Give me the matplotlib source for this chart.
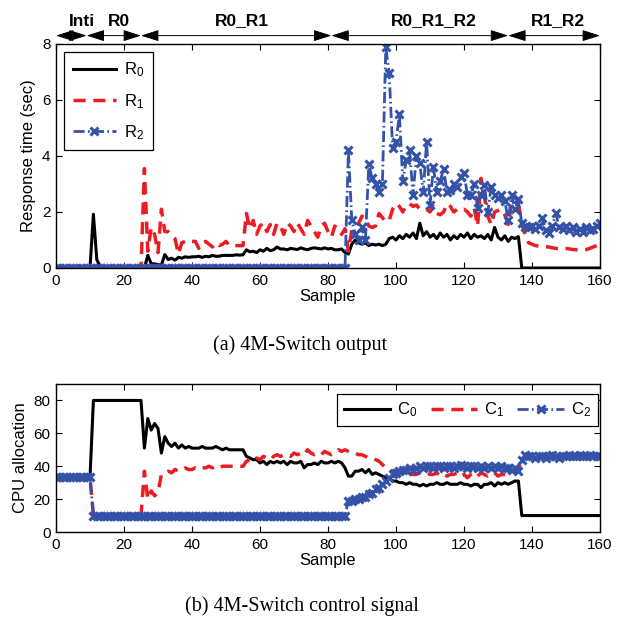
import matplotlib
matplotlib.use("Agg")
import matplotlib.pyplot as plt
import numpy as np

plt.rcParams['font.family'] = ['Liberation Sans', 'DejaVu Sans']
plt.rcParams['mathtext.fontset'] = 'custom'
plt.rcParams['mathtext.rm'] = 'Liberation Sans'

# ---------------- data ----------------
samples = list(range(0, 161))

R0 = [0, 0, 0, 0, 0, 0, 0, 0, 0, 0,
      0, 1.92, 0.3, 0.05, 0, 0, 0, 0, 0, 0,
      0, 0, 0, 0, 0, 0, 0, 0.45, 0.15, 0.15,
      0.12, 0.1, 0.48, 0.3, 0.35, 0.28, 0.38, 0.35, 0.4, 0.38,
      0.4, 0.4, 0.42, 0.38, 0.42, 0.4, 0.45, 0.42, 0.42, 0.45,
      0.45, 0.45, 0.45, 0.47, 0.46, 0.47, 0.65, 0.58, 0.6, 0.55,
      0.65, 0.6, 0.7, 0.62, 0.65, 0.75, 0.68, 0.68, 0.65, 0.7,
      0.68, 0.66, 0.72, 0.68, 0.65, 0.7, 0.72, 0.7, 0.68, 0.72,
      0.68, 0.7, 0.65, 0.65, 0.68, 0.55, 0.5, 0.85, 1.0, 0.9,
      0.85, 0.9, 0.8, 0.85, 0.82, 0.85, 0.8, 0.85, 1.05, 1.1,
      1.0, 1.15, 1.05, 1.2, 1.1, 1.25, 1.05, 1.6, 1.15, 1.3,
      1.1, 1.2, 1.05, 1.25, 1.1, 1.2, 1.0, 1.15, 1.05, 1.2,
      1.1, 1.25, 1.05, 1.2, 1.1, 1.15, 1.05, 1.2, 1.0, 1.45,
      1.1, 1.0, 1.15, 0.95, 1.1, 1.05, 1.12, 0, 0, 0,
      0, 0, 0, 0, 0, 0, 0, 0, 0, 0,
      0, 0, 0, 0, 0, 0, 0, 0, 0, 0,
      0]

R1 = [0, 0, 0, 0, 0, 0, 0, 0, 0, 0,
      0, 0, 0, 0, 0, 0, 0, 0, 0, 0,
      0, 0, 0, 0, 0, 0, 3.55, 0.6, 1.45, 1.2,
      0.55, 2.1, 1.3, 1.3, 1.15, 1.05, 0.5, 0.9, 0.95, 0.9,
      0.95, 0.95, 0.7, 0.9, 0.95, 0.85, 0.75, 0.9, 0.8, 0.85,
      0.95, 0.8, 0.8, 0.8, 0.8, 0.8, 1.95, 1.4, 1.7, 1.2,
      1.5, 1.6, 1.3, 1.55, 1.2, 1.6, 1.5, 1.2, 1.6, 1.5,
      1.3, 1.6, 1.4, 1.2, 1.7, 1.5, 1.3, 1.1, 1.5, 1.6,
      1.3, 1.1, 1.5, 1.4, 1.2, 1.4, 0.6, 1.35, 1.4, 1.6,
      1.85, 1.8, 1.5, 1.45, 1.5, 1.95, 1.8, 1.65, 1.7, 2.1,
      2.3, 2.2, 2.0, 2.25, 2.3, 2.2, 2.25, 2.1, 2.05, 2.1,
      2.0, 2.2, 1.95, 1.9, 2.0, 2.3, 2.2, 2.0, 2.1, 2.05,
      2.1, 2.0, 1.85, 2.15, 1.5, 3.2, 2.55, 1.85, 1.55, 2.0,
      2.05, 2.1, 1.9, 1.55, 2.3, 2.25, 2.3, 1.55, 1.2, 0.9,
      0.85, 0.8, 0.78, 0.76, 0.76, 0.75, 0.72, 0.7, 0.7, 0.7,
      0.7, 0.68, 0.66, 0.65, 0.64, 0.65, 0.66, 0.7, 0.75, 0.8,
      0.85]

R2 = [0, 0, 0, 0, 0, 0, 0, 0, 0, 0,
      0, 0, 0, 0, 0, 0, 0, 0, 0, 0,
      0, 0, 0, 0, 0, 0, 0, 0, 0, 0,
      0, 0, 0, 0, 0, 0, 0, 0, 0, 0,
      0, 0, 0, 0, 0, 0, 0, 0, 0, 0,
      0, 0, 0, 0, 0, 0, 0, 0, 0, 0,
      0, 0, 0, 0, 0, 0, 0, 0, 0, 0,
      0, 0, 0, 0, 0, 0, 0, 0, 0, 0,
      0, 0, 0, 0, 0, 0, 4.2, 1.7, 1.2, 1.0,
      1.45, 1.0, 3.7, 3.2, 3.0, 2.7, 3.0, 7.9, 6.95, 4.3,
      4.5, 5.5, 3.1, 3.85, 4.2, 2.6, 4.0, 3.75, 2.7, 4.5,
      2.25, 3.6, 2.7, 3.1, 3.55, 2.7, 2.8, 3.0, 2.9, 3.25,
      3.4, 2.6, 2.6, 3.0, 2.15, 2.6, 2.95, 2.0, 2.9, 2.6,
      2.5, 2.6, 2.4, 1.7, 2.6, 2.1, 2.45, 1.6, 1.45, 1.45,
      1.5, 1.4, 1.5, 1.8, 1.35, 1.25, 1.5, 1.95, 1.45, 1.4,
      1.5, 1.35, 1.45, 1.3, 1.4, 1.3, 1.45, 1.35, 1.4, 1.5,
      1.6]

C0 = [33.3, 33.3, 33.3, 33.3, 33.3, 33.3, 33.3, 33.3, 33.3, 33.3,
      33.3, 80, 80, 80, 80, 80, 80, 80, 80, 80,
      80, 80, 80, 80, 80, 80, 51, 69, 62, 66,
      63, 48, 58, 54, 52, 54, 51, 53, 51, 52,
      51, 51, 51, 52, 51, 51, 51, 52, 51, 50,
      51, 50, 50, 50, 50, 50, 46, 45, 44, 44,
      42, 43, 41, 43, 42, 43, 42, 43, 41, 43,
      42, 42, 43, 39, 41, 41, 42, 41, 43, 42,
      42, 43, 42, 43, 42, 39, 34, 34, 37, 37,
      38, 36, 38, 35, 36, 35, 34, 33, 33, 31,
      31, 30, 30, 29, 30, 29, 29, 28, 29, 28,
      29, 29, 30, 29, 29, 30, 29, 29, 29, 30,
      29, 29, 28, 29, 29, 27, 29, 29, 30, 28,
      30, 29, 30, 29, 30, 31, 31, 10, 10, 10,
      10, 10, 10, 10, 10, 10, 10, 10, 10, 10,
      10, 10, 10, 10, 10, 10, 10, 10, 10, 10,
      10]

C1 = [33.3, 33.3, 33.3, 33.3, 33.3, 33.3, 33.3, 33.3, 33.3, 33.3,
      33.3, 10, 10, 10, 10, 10, 10, 10, 10, 10,
      10, 10, 10, 10, 10, 10, 37, 20, 25, 22,
      24, 35, 36, 37, 36, 38, 37, 38, 39, 38,
      38, 39, 38, 39, 39, 40, 39, 40, 39, 40,
      40, 40, 40, 40, 40, 40, 43, 44, 43, 45,
      44, 46, 45, 44, 46, 47, 46, 47, 47, 46,
      48, 47, 48, 47, 50, 48, 47, 48, 47, 49,
      48, 47, 48, 50, 49, 50, 49, 48, 48, 47,
      47, 46, 45, 45, 44, 43, 41, 39, 38, 37,
      37, 36, 36, 35, 35, 35, 35, 36, 35, 36,
      35, 35, 36, 34, 35, 34, 35, 35, 36, 34,
      35, 33, 35, 36, 34, 36, 35, 34, 35, 36,
      34, 35, 35, 35, 36, 37, 38, 45, 46, 46,
      45, 46, 45, 46, 47, 46, 45, 46, 46, 47,
      46, 46, 47, 46, 46, 47, 46, 45, 46, 45,
      46]

C2 = [33.3, 33.3, 33.3, 33.3, 33.3, 33.3, 33.3, 33.3, 33.3, 33.3,
      33.3, 10, 10, 10, 10, 10, 10, 10, 10, 10,
      10, 10, 10, 10, 10, 10, 10, 10, 10, 10,
      10, 10, 10, 10, 10, 10, 10, 10, 10, 10,
      10, 10, 10, 10, 10, 10, 10, 10, 10, 10,
      10, 10, 10, 10, 10, 10, 10, 10, 10, 10,
      10, 10, 10, 10, 10, 10, 10, 10, 10, 10,
      10, 10, 10, 10, 10, 10, 10, 10, 10, 10,
      10, 10, 10, 10, 10, 10, 19, 19, 20, 20,
      21, 21, 23, 24, 26, 27, 29, 31, 33, 35,
      36, 37, 38, 38, 39, 38, 39, 40, 39, 40,
      40, 39, 40, 40, 39, 40, 40, 39, 40, 41,
      40, 39, 40, 40, 39, 40, 39, 40, 39, 40,
      39, 40, 39, 39, 38, 39, 37, 44, 47, 46,
      46, 45, 46, 46, 45, 46, 47, 46, 45, 46,
      46, 47, 46, 46, 47, 46, 46, 47, 46, 46,
      46]

phase_labels = ["Inti", "R0", "R0_R1", "R0_R1_R2", "R1_R2"]
phase_bounds = [0, 9, 25, 81, 133, 160]
phase_label_x = [7.6, 18.4, 54.7, 111, 147.6]

# ---------------- style ----------------
BLACK = 'black'
RED = '#ec1c24'
BLUE = '#3452a8'

fig = plt.figure(figsize=(6.19, 6.21), dpi=100)
W, H = 619.0, 621.0
ax1 = fig.add_axes([56 / W, 1 - 268 / H, 544 / W, 224 / H])
ax2 = fig.add_axes([56 / W, 1 - 532 / H, 544 / W, 148 / H])


def style_axes(ax):
    ax.tick_params(direction='in', top=True, right=True, labelsize=11,
                   length=4, width=0.8, pad=4)
    for s in ax.spines.values():
        s.set_linewidth(1.0)
    ax.set_xlim(0, 160)
    ax.set_xticks(range(0, 161, 20))


def plot_three(ax, a, b, c, labels):
    ax.plot(samples, a, color=BLACK, lw=2.2, label=labels[0])
    ax.plot(samples, b, color=RED, lw=2.5, dashes=(3.5, 2.2), label=labels[1])
    ax.plot(samples, c, color=BLUE, lw=2.0, dashes=(4, 1.2, 0.6, 1.2),
            marker='x', ms=6, mew=2.2, label=labels[2])


plot_three(ax1, R0, R1, R2,
           [r'$\mathregular{R_0}$', r'$\mathregular{R_1}$', r'$\mathregular{R_2}$'])
style_axes(ax1)
ax1.set_ylim(0, 8)
ax1.set_yticks([0, 2, 4, 6, 8])
ax1.set_xlabel('Sample', fontsize=12, labelpad=1)
ax1.set_ylabel('Response time (sec)', fontsize=12, labelpad=4)
leg1 = ax1.legend(loc='upper left', fontsize=12, handlelength=2.6,
                  borderaxespad=0.5, fancybox=False, edgecolor='black',
                  framealpha=1, labelspacing=0.75, borderpad=0.5,
                  handletextpad=0.5)
leg1.get_frame().set_linewidth(0.9)

plot_three(ax2, C0, C1, C2,
           [r'$\mathregular{C_0}$', r'$\mathregular{C_1}$', r'$\mathregular{C_2}$'])
style_axes(ax2)
ax2.set_ylim(0, 90)
ax2.set_yticks([0, 20, 40, 60, 80])
ax2.set_xlabel('Sample', fontsize=12, labelpad=1)
ax2.set_ylabel('CPU allocation', fontsize=12, labelpad=4)
leg2 = ax2.legend(loc='upper right', ncol=3, fontsize=12, handlelength=2.8,
                  borderaxespad=0.15, fancybox=False, edgecolor='black',
                  framealpha=1, columnspacing=0.8, handletextpad=0.4,
                  borderpad=0.4, bbox_to_anchor=(1.0, 0.95))
leg2.get_frame().set_linewidth(0.9)

# phase annotations above the top axes
for i, lab in enumerate(phase_labels):
    x0, x1 = phase_bounds[i], phase_bounds[i + 1]
    ax1.annotate('', xy=(x1, 8.3), xytext=(x0, 8.3), xycoords='data',
                 annotation_clip=False,
                 arrowprops=dict(arrowstyle='<|-|>,head_length=1.1,head_width=0.35',
                                 color='black', lw=0.7, shrinkA=0, shrinkB=0))
    ax1.text(phase_label_x[i], 8.82, lab, ha='center', va='center',
             fontsize=12.5, fontweight='bold', clip_on=False)

fig.text(300 / W, 1 - 345 / H, '(a) 4M-Switch output', ha='center', va='center',
         family='Liberation Serif', fontsize=14.5)
fig.text(302 / W, 1 - 606 / H, '(b) 4M-Switch control signal', ha='center',
         va='center', family='Liberation Serif', fontsize=14.5)

fig.savefig('out.png', dpi=100)
